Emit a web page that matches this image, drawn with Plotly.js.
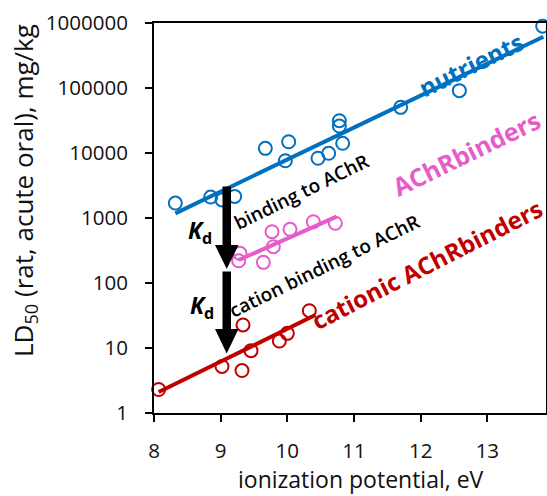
<!DOCTYPE html>
<html>
<head>
<meta charset="utf-8">
<script src="https://cdn.plot.ly/plotly-3.0.1.min.js"></script>
<style>html,body{margin:0;padding:0;background:#fff;}#chart{width:547px;height:496px;}</style>
</head>
<body>
<div id="chart"></div>
<script>
// ---- data ----
const nutrX = [8.32, 8.85, 9.02, 9.21, 9.67, 9.97, 10.02, 10.46, 10.62, 10.78, 10.78, 10.83, 11.70, 12.58, 13.83];
const nutrY = [1700, 2100, 1900, 2150, 11800, 7600, 14900, 8300, 9900, 31400, 26000, 14100, 50400, 91000, 895000];
const binderX = [9.29, 9.27, 9.64, 9.77, 9.79, 10.04, 10.39, 10.72];
const binderY = [286, 220, 208, 615, 362, 670, 876, 830];
const cationX = [8.07, 9.02, 9.32, 9.335, 9.455, 9.88, 10.0, 10.33];
const cationY = [2.3, 5.2, 4.5, 22.6, 9.1, 12.8, 16.8, 37.5];
const nutrFitX = [8.32, 13.84];
const nutrFitY = [1180, 616000];
const binderFitX = [9.27, 10.74];
const binderFitY = [226, 1047];
const cationFitX = [8.07, 10.42];
const cationFitY = [2.1, 32.2];
const xTicks = [8, 9, 10, 11, 12, 13];
const yTicks = [1, 10, 100, 1000, 10000, 100000, 1000000];
const yTickText = ['1', '10', '100', '1000', '10000', '100000', '1000000'];

const BLUE = '#0070C0', PINK = '#E65CCB', RED = '#C00000';
const FONT = 'Open Sans, Liberation Sans, sans-serif';

const M = {l: 154, r: 1, t: 23, b: 83};
const PW = 547 - M.l - M.r, PH = 496 - M.t - M.b;
function px(x) { return (x - M.l) / PW; }
function py(y) { return (M.t + PH - y) / PH; }

function pts(x, y, c) {
  return {x: x, y: y, type: 'scatter', mode: 'markers', cliponaxis: false, hoverinfo: 'skip',
    marker: {symbol: 'circle-open', size: 13, color: c, line: {width: 2, color: c}}};
}
function fit(x, y, c) {
  return {x: x, y: y, type: 'scatter', mode: 'lines', cliponaxis: false, hoverinfo: 'skip',
    line: {color: c, width: 4}};
}

const data = [
  pts(nutrX, nutrY, BLUE), pts(binderX, binderY, PINK), pts(cationX, cationY, RED),
  fit(nutrFitX, nutrFitY, BLUE), fit(binderFitX, binderFitY, PINK), fit(cationFitX, cationFitY, RED)
];

function label(text, x, y, size, color, angle, weight) {
  return {text: text, xref: 'paper', yref: 'paper', x: px(x), y: py(y), xanchor: 'center', yanchor: 'middle',
    showarrow: false, textangle: angle, font: {family: FONT, size: size, color: color, weight: weight || 'normal'}};
}

const annotations = [
  label('nutrients', 471, 65, 24, BLUE, -26, 'bold'),
  label('AChRbinders', 466, 153, 25, PINK, -26, 'bold'),
  label('cationic AChRbinders', 426, 264, 24, RED, -27, 'bold'),
  label('binding to AChR', 301, 192, 19, '#000', -26, 600),
  label('cation binding to AChR', 324, 266, 19, '#000', -26, 600),
  label('<b><i>K</i></b><sub><b>d</b></sub>', 200, 231, 23, '#000', 0),
  label('<b><i>K</i></b><sub><b>d</b></sub>', 202, 306, 23, '#000', 0),
  label('LD<sub>50</sub> (rat, acute oral), mg/kg', 24, 191, 26, '#111', -90),
  label('ionization potential, eV', 361, 479, 23, '#111', 0)
];

function rect(x0, x1, y0, y1) {
  return {type: 'rect', xref: 'paper', yref: 'paper', x0: px(x0), x1: px(x1), y0: py(y0), y1: py(y1),
    fillcolor: '#000', line: {width: 0}};
}
function tri(xl, xr, ytop, xt, yt) {
  return {type: 'path', xref: 'paper', yref: 'paper',
    path: 'M' + px(xl) + ',' + py(ytop) + ' L' + px(xr) + ',' + py(ytop) + ' L' + px(xt) + ',' + py(yt) + ' Z',
    fillcolor: '#000', line: {width: 0}};
}
const shapes = [
  rect(222.5, 231, 246, 186.5), tri(215, 238.5, 245, 226.7, 269),
  rect(222.5, 231, 330, 271.5), tri(215, 238.5, 329, 226.7, 353.5)
];

const layout = {
  width: 547, height: 496, margin: M, showlegend: false,
  paper_bgcolor: '#fff', plot_bgcolor: '#fff',
  font: {family: FONT, color: '#111'},
  xaxis: {range: [8, 8 + PW / 66.67], tickvals: xTicks, ticktext: xTicks.map(String),
    showgrid: false, zeroline: false, showline: true, mirror: true, linecolor: '#000', linewidth: 2,
    ticks: 'outside', ticklen: 7, tickwidth: 2, tickcolor: '#000', ticklabelstandoff: 11,
    tickfont: {family: FONT, size: 20.5, color: '#111'}},
  yaxis: {type: 'log', range: [0, 6], tickvals: yTicks, ticktext: yTickText,
    showgrid: false, zeroline: false, showline: true, mirror: true, linecolor: '#000', linewidth: 2,
    ticks: 'outside', ticklen: 7, tickwidth: 2, tickcolor: '#000', ticklabelstandoff: 13,
    tickfont: {family: FONT, size: 20.5, color: '#111'}},
  annotations: annotations, shapes: shapes
};

Plotly.newPlot('chart', data, layout, {staticPlot: true});
</script>
</body>
</html>
